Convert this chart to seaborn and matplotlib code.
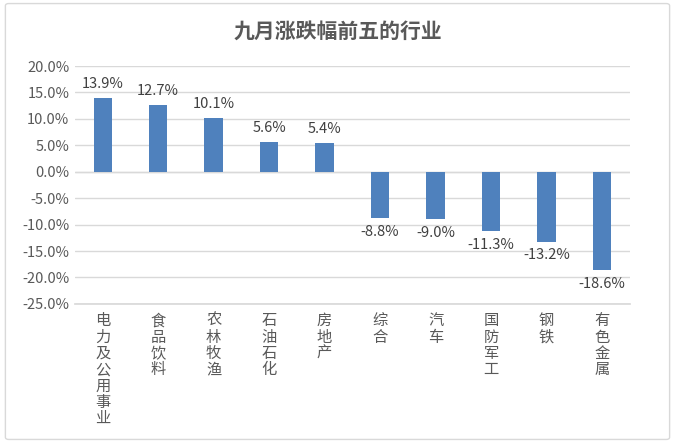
import numpy as np
import pandas as pd
import matplotlib.pyplot as plt
import seaborn as sns
from matplotlib.patches import FancyBboxPatch

industries = ['电力及公用事业', '食品饮料', '农林牧渔', '石油石化', '房地产',
              '综合', '汽车', '国防军工', '钢铁', '有色金属']
changes = [13.9, 12.7, 10.1, 5.6, 5.4, -8.8, -9.0, -11.3, -13.2, -18.6]
y_ticks = [20, 15, 10, 5, 0, -5, -10, -15, -20, -25]

df = pd.DataFrame({'industry': industries, 'change': changes})

sns.set_theme(style="white")
plt.rcParams['font.family'] = ['Noto Sans CJK SC', 'DejaVu Sans']

fig = plt.figure(figsize=(6.75, 4.43), dpi=100)
ax = fig.add_axes([0.111, 0.314, 0.822, 0.537])

sns.barplot(x='industry', y='change', data=df, color='#4F81BD', width=0.33,
            saturation=1, linewidth=0, ax=ax)

ax.set_ylim(-25, 20)
ax.set_yticks(y_ticks)
ax.set_yticklabels([f'{v:.1f}%' for v in y_ticks], fontsize=10.5, color='#595959')
ax.set_xticks(range(len(industries)))
ax.set_xticklabels(['\n'.join(s) for s in industries], fontsize=11, color='#595959',
                   linespacing=0.95, va='top')
ax.tick_params(axis='both', length=0, pad=4)
ax.tick_params(axis='x', pad=6)
ax.set_xlabel('')
ax.set_ylabel('')
ax.grid(axis='y', color='#D9D9D9', linewidth=1)
ax.set_axisbelow(True)
for s in ax.spines.values():
    s.set_visible(False)
ax.spines['bottom'].set_visible(True)
ax.spines['bottom'].set_color('#D9D9D9')
ax.axhline(0, color='#D9D9D9', linewidth=1, zorder=0)

for container in ax.containers:
    ax.bar_label(container, labels=[f'{v:.1f}%' for v in changes], padding=5,
                 fontsize=10.5, color='#404040')

fig.text(0.5, 0.93, '九月涨跌幅前五的行业', ha='center', va='center',
         fontsize=15, fontweight='bold', color='#595959')

border = FancyBboxPatch((0.008, 0.008), 0.984, 0.984, boxstyle='round,pad=0,rounding_size=0.005',
                        transform=fig.transFigure, fill=False, edgecolor='#D9D9D9',
                        linewidth=1)
fig.patches.append(border)

fig.savefig('out.png', dpi=100)
